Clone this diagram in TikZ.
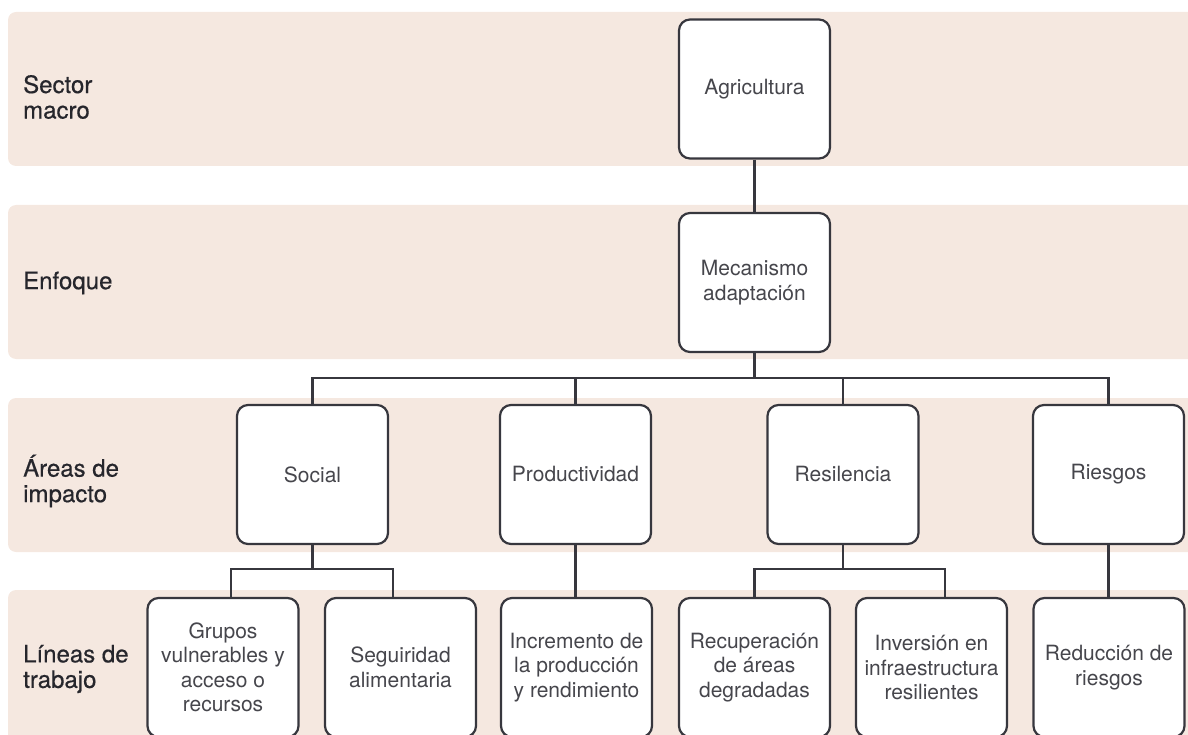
\documentclass[tikz,border=0pt]{standalone}
\usepackage{fontspec}
\setmainfont{TeX Gyre Heros}
\newfontfamily\lblfont{TeX Gyre Heros}[FakeBold=0.45]
\usetikzlibrary{calc}
\definecolor{bandc}{RGB}{245,232,224}
\definecolor{ink}{RGB}{55,55,62}
\definecolor{txt}{RGB}{70,70,76}
\definecolor{lblc}{RGB}{38,38,44}
\tikzset{
  box/.style={draw=ink, line width=2.2pt, fill=white, rounded corners=11pt,
    minimum width=151pt, minimum height=139pt, align=center, inner sep=0pt,
    font=\fontsize{21}{24.5}\selectfont, text=txt},
  bandbox/.style={fill=bandc, rounded corners=8pt},
  lbl/.style={anchor=west, align=left, inner sep=0pt,
    font=\lblfont\fontsize{24}{25.5}\selectfont, text=lblc},
  wire/.style={draw=ink, line width=2.2pt}
}
\begin{document}
\begin{tikzpicture}[x=1pt,y=-1pt]
\useasboundingbox (0,0) rectangle (1188,735);
\clip (0,0) rectangle (1188,735);
% bands
\fill[bandbox] (8,12) rectangle (1210,166);
\fill[bandbox] (8,205) rectangle (1210,359);
\fill[bandbox] (8,398) rectangle (1210,552);
\fill[bandbox] (8,590) rectangle (1210,760);
% row labels
\node[lbl] (l1) at (23,97) {Sector\\macro};
\node[lbl] (l2) at (23,283) {Enfoque};
\node[lbl] (l3) at (23,481) {Áreas de\\impacto};
\node[lbl] (l4) at (23,669) {Líneas de\\trabajo};
% boxes
\node[box] (agri) at (754.5,89) {Agricultura};
\node[box] (mec) at (754.5,282.5) {Mecanismo\\adaptación};
\node[box] (social) at (312.5,474.5) {Social};
\node[box] (prod) at (575.5,474.5) {Productividad};
\node[box] (resil) at (843,474.5) {Resilencia};
\node[box] (ries) at (1108.5,474.5) {Riesgos};
\node[box] (grupos) at (223,667.5) {Grupos\\vulnerables y\\acceso o\\recursos};
\node[box] (segur) at (400.5,667.5) {Seguiridad\\alimentaria};
\node[box] (incr) at (576.5,667.5) {Incremento de\\la producción\\y rendimiento};
\node[box] (recup) at (754.5,667.5) {Recuperación\\de áreas\\degradadas};
\node[box] (inver) at (931.5,667.5) {Inversión en\\infraestructura\\resilientes};
\node[box] (reduc) at (1109,667.5) {Reducción de\\riesgos};
% connectors
\draw[wire] (agri.south) -- (mec.north);
\coordinate (bus) at (754.5,378);
\draw[wire] (mec.south) -- (bus);
\draw[wire] (social.north) -- (social.north |- bus) -| (ries.north);
\draw[wire] (prod.north) -- (prod.north |- bus);
\draw[wire] (resil.north) -- (resil.north |- bus);
\coordinate (sbus) at (312.5,569);
\draw[wire] (social.south) -- (sbus);
\draw[wire] ([xshift=8pt]grupos.north) -- ([xshift=8pt]grupos.north |- sbus) -| ([xshift=-7.5pt]segur.north);
\coordinate (rbus) at (843,569);
\draw[wire] (resil.south) -- (rbus);
\draw[wire] (recup.north) -- (recup.north |- rbus) -| ([xshift=13.5pt]inver.north);
\draw[wire] (prod.south) -- (prod.south |- incr.north);
\draw[wire] (ries.south) -- (ries.south |- reduc.north);
\end{tikzpicture}
\end{document}
